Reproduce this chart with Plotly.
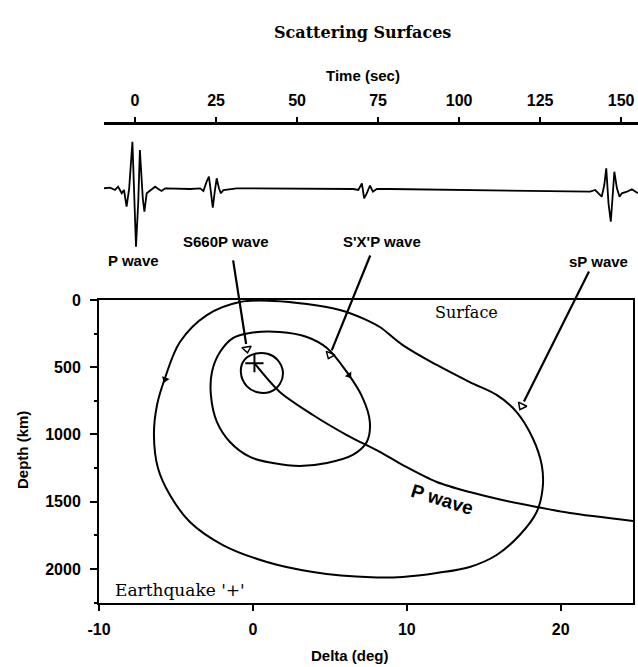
import math
import plotly.graph_objects as go

W, H = 638, 667

# ---- seismogram: time (s) and relative amplitude ----
trace_time = [-9.8, -7.7, -6.2, -5.2, -4.1, -3.4, -2.6, -1.8, -0.8, -0.2, 0.3, 1.0, 1.5, 2.4, 2.9, 3.6, 4.6, 6.2, 7.2, 8.2, 9.3,
              17.0, 20.1, 21.1, 22.1, 22.8, 23.4, 24.0, 24.6, 25.2, 25.9, 26.5, 27.3, 29.3, 31.4,
              67.4, 68.9, 70.0, 70.7, 71.5, 72.5, 73.4, 74.6, 78.7,
              137.3, 140.4, 142.0, 143.0, 144.0, 144.8, 145.4, 146.1, 146.8, 147.4, 147.9, 148.7, 149.5, 150.2, 151.8, 153.3, 154.3, 155.2]
trace_amp = [0.7, 1.3, -1, 2.3, -4.3, -1, -17.7, 0.7, 47.3, -12.7, -57.7, -12.7, 39, -9.3, -22.7, -4.3, -2, 2.3, 0, -2, 0.7,
             0, 0.7, -2, 7.3, 12.3, -2.7, -18.7, -2.7, 10.7, 0.7, -4.3, -1, 0, 0.7,
             0, -1, 5.7, -9.3, -4.3, 3.3, -2.7, 0, 0,
             -2.7, -2.7, -1, -4.3, -7.7, 4, 20.7, -14.3, -32.7, -6, 17.3, 0.7, -7.7, -4.3, -2.7, -0.3, -2.7, -4.3]
time_ticks = [0, 25, 50, 75, 100, 125, 150]

# ---- scattering surfaces: delta (deg), depth (km) ----
outer_delta = [-2.99, -0.84, 1.3, 3.51, 5.65, 7.4, 8.25, 9.74, 11.95, 14.09, 15.84, 17.14, 18.18, 18.77, 18.83, 18.44,
               17.34, 15.84, 14.09, 11.95, 9.74, 7.7, 3.9, 0.91, -1.95, -4.09, -5.39, -6.17, -6.43, -6.23, -5.71, -4.74, -2.99]
outer_depth = [112, 15, 7, 30, 74, 149, 201, 335, 483, 610, 706, 833, 1026, 1227, 1398, 1576,
               1747, 1896, 1985, 2030, 2059, 2062, 2022, 1948, 1822, 1651, 1450, 1249, 1004, 781, 580, 312, 112]

mid_delta = [-0.19, 1.75, 3.51, 4.81, 6.10, 7.14, 7.60, 7.40, 6.49, 4.81, 3.05, 1.30, -0.19, -1.49, -2.34, -2.73, -2.66, -2.14, -1.30, -0.19]
mid_depth = [245, 238, 275, 357, 535, 729, 907, 1056, 1152, 1212, 1234, 1212, 1167, 1056, 907, 706, 535, 387, 283, 245]

small_delta = [-0.78, -0.55, 0.2, 0.95, 1.6, 1.95, 1.75, 1.1, 0.3, -0.4, -0.78]
small_depth = [540, 445, 398, 400, 445, 535, 625, 684, 686, 640, 540]

ray_delta = [0.1, 1.75, 3.9, 6.1, 8.25, 9.74, 11.95, 14.09, 16.2, 18.44, 20.6, 24.7]
ray_depth = [470, 684, 855, 1004, 1130, 1227, 1353, 1428, 1487, 1539, 1584, 1643]

quake_delta, quake_depth = 0.1, 470

# phase arrows: head position on the surfaces and tail offset (px)
arrow_names = ["S660P", "S'X'P", "sP"]
arrow_delta = [-0.39, 5.0, 17.47]
arrow_depth = [364, 409, 788]
arrow_dx = [-14, 41, 68]
arrow_dy = [-90, -101, -136]

# propagation direction marks on the surfaces
dir_delta = [-5.7, 6.25]
dir_depth = [590, 560]
dir_angle = [20, -36]

depth_ticks = [0, 500, 1000, 1500, 2000]
delta_ticks = [-10, 0, 10, 20]
delta_labels = ["-10", "0", "10", "20"]

SANS = "Liberation Sans, Arial, sans-serif"
SERIF = "DejaVu Serif, serif"
BLACK = "#000000"


def px(x):
    return x / W


def py(y):
    return 1 - y / H


fig = go.Figure()

# seismogram
fig.add_trace(go.Scatter(x=trace_time, y=trace_amp, xaxis="x2", yaxis="y2", mode="lines",
                         line=dict(color=BLACK, width=1.8), showlegend=False, hoverinfo="skip"))

# scattering surfaces
for xs, ys in [(outer_delta, outer_depth), (mid_delta, mid_depth), (small_delta, small_depth)]:
    fig.add_trace(go.Scatter(x=xs, y=ys, mode="lines", line=dict(color=BLACK, width=2, shape="spline", smoothing=1.0),
                             showlegend=False, hoverinfo="skip"))

# direct P ray
fig.add_trace(go.Scatter(x=ray_delta, y=ray_depth, mode="lines", line=dict(color=BLACK, width=2, shape="spline", smoothing=0.8),
                         showlegend=False, hoverinfo="skip"))

# earthquake
fig.add_trace(go.Scatter(x=[quake_delta], y=[quake_depth], mode="markers",
                         marker=dict(symbol="cross-thin-open", size=13, color=BLACK, line=dict(color=BLACK, width=2)),
                         showlegend=False, hoverinfo="skip"))

# open arrowheads at the scattering points
head_angle = [-math.degrees(math.atan2(-dx, -dy)) for dx, dy in zip(arrow_dx, arrow_dy)]
fig.add_trace(go.Scatter(x=arrow_delta, y=arrow_depth, mode="markers",
                         marker=dict(symbol="triangle-down-open", size=8, angle=head_angle, color=BLACK,
                                     line=dict(color=BLACK, width=1.5)),
                         showlegend=False, hoverinfo="skip", cliponaxis=False))

# direction marks
fig.add_trace(go.Scatter(x=dir_delta, y=dir_depth, mode="markers",
                         marker=dict(symbol="triangle-down", size=7, angle=dir_angle, color=BLACK),
                         showlegend=False, hoverinfo="skip"))

annotations = []
for name, xd, yd, dx, dy in zip(arrow_names, arrow_delta, arrow_depth, arrow_dx, arrow_dy):
    annotations.append(dict(x=xd, y=yd, xref="x", yref="y", ax=dx, ay=dy, axref="pixel", ayref="pixel",
                            showarrow=True, arrowhead=0, arrowwidth=2.2, arrowcolor=BLACK, standoff=5, text=""))

label_font = dict(family=SANS, size=15, color=BLACK, weight="bold")
for text, x, y in [("P wave", 133, 260), ("S660P wave", 226, 241), ("S'X'P wave", 382, 241), ("sP wave", 598, 262)]:
    annotations.append(dict(x=px(x), y=py(y), xref="paper", yref="paper", text=text, showarrow=False,
                            font=label_font, xanchor="center", yanchor="middle"))

paper_texts = [
    ("Scattering Surfaces", 362, 32, 0, dict(family=SERIF, size=16, color=BLACK, weight="bold")),
    ("Time (sec)", 363, 76, 0, dict(family=SANS, size=15, color=BLACK, weight="bold")),
    ("Delta (deg)", 350, 655, 0, dict(family=SANS, size=15, color=BLACK, weight="bold")),
    ("Depth (km)", 22, 450, -90, dict(family=SANS, size=15, color=BLACK, weight="bold")),
]
for text, x, y, ang, font in paper_texts:
    annotations.append(dict(x=px(x), y=py(y), xref="paper", yref="paper", text=text, showarrow=False,
                            textangle=ang, font=font, xanchor="center", yanchor="middle"))

annotations += [
    dict(x=13.9, y=90, xref="x", yref="y", text="Surface", showarrow=False, yanchor="middle",
         font=dict(family=SERIF, size=16, color=BLACK)),
    dict(x=-9.1, y=2156, xref="x", yref="y", text="Earthquake '+'", showarrow=False, xanchor="left", yanchor="middle",
         font=dict(family=SERIF, size=17, color=BLACK)),
    dict(x=12.3, y=1487, xref="x", yref="y", text="P wave", showarrow=False, textangle=17, yanchor="middle",
         font=dict(family=SANS, size=19, color=BLACK, weight="bold")),
]

tick_font = dict(family=SANS, size=16, color=BLACK, weight="bold")

fig.update_layout(
    width=W, height=H, template="none",
    margin=dict(l=0, r=0, t=0, b=0),
    paper_bgcolor="white", plot_bgcolor="rgba(0,0,0,0)",
    showlegend=False,
    xaxis=dict(domain=[px(99), px(633)], range=[-10, 24.7], anchor="y", tickvals=delta_ticks, ticktext=delta_labels,
               ticks="outside", ticklen=6, tickwidth=2, tickcolor=BLACK, showline=True, linewidth=2, linecolor=BLACK,
               mirror=True, showgrid=False, zeroline=False, tickfont=tick_font, ticklabelstandoff=5),
    yaxis=dict(domain=[py(603), py(300)], range=[2253, 0], anchor="x", tickvals=depth_ticks,
               ticks="outside", ticklen=7, tickwidth=2, tickcolor=BLACK, showline=True, linewidth=2, linecolor=BLACK,
               mirror=True, showgrid=False, zeroline=False, tickfont=tick_font, ticklabelstandoff=6,
               minor=dict(dtick=250, ticks="outside", ticklen=3, tickwidth=1.5, tickcolor=BLACK, showgrid=False)),
    xaxis2=dict(domain=[px(104), 1.0], range=[-9.57, 155.2], anchor="y2", side="top", tickvals=time_ticks,
                ticks="outside", ticklen=5, tickwidth=2, tickcolor=BLACK, showline=True, linewidth=2.5, linecolor=BLACK,
                showgrid=False, zeroline=False, tickfont=tick_font, ticklabelstandoff=5),
    yaxis2=dict(domain=[py(260), py(125)], range=[-71, 64], anchor="x2", visible=False),
    annotations=annotations,
)

fig.write_html("out.html")
